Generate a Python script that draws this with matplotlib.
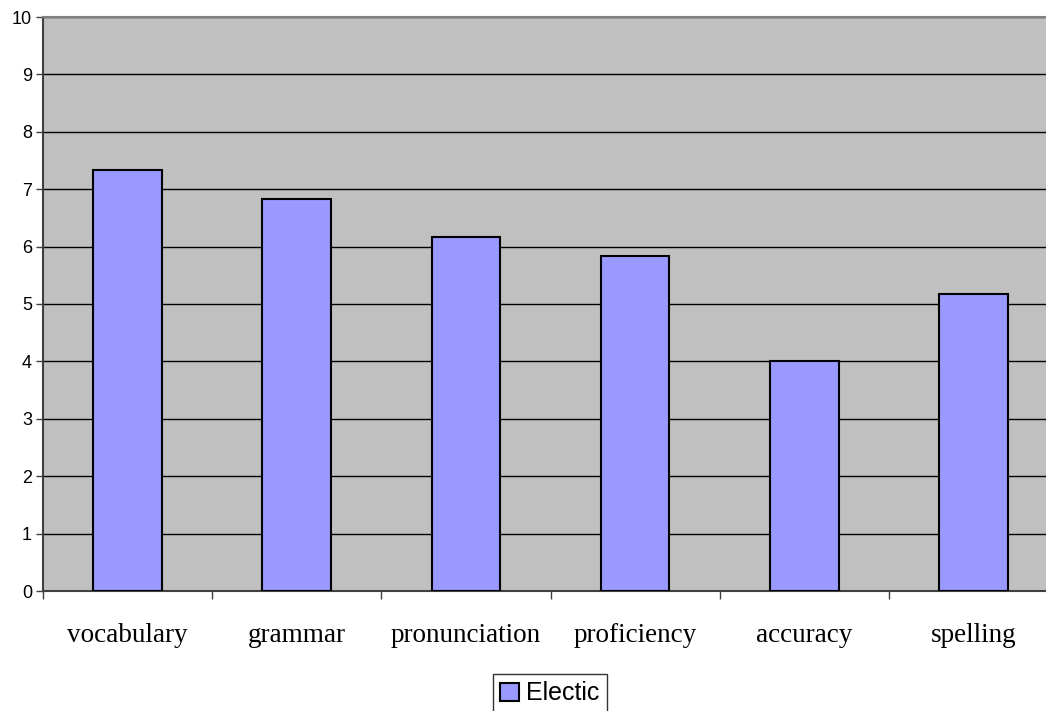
import matplotlib.pyplot as plt
import numpy as np

categories = ['vocabulary', 'grammar', 'pronunciation', 'proficiency', 'accuracy', 'spelling']
electic = [7.33, 6.83, 6.17, 5.83, 4.0, 5.17]

fig = plt.figure(figsize=(10.46, 7.11), dpi=100)
# plot area runs a little past the right edge of the image, like the original
ax = fig.add_axes([43 / 1046, 120 / 711, 1015 / 1046, 574 / 711])
ax.set_facecolor('#C0C0C0')

x = np.arange(len(categories))
ax.bar(x, electic, width=0.405, color='#9999FF', edgecolor='black', linewidth=1.5,
       label='Electic', zorder=3)

ax.set_xlim(-0.5, len(categories) - 0.5)
ax.set_ylim(0, 10)
ax.set_yticks(range(0, 11))
ax.yaxis.grid(True, color='black', linewidth=1, zorder=1)

ax.set_xticks(x)
ax.set_xticklabels(categories, fontfamily='Liberation Serif', fontsize=19.5)
ax.tick_params(axis='x', which='major', length=0, pad=23)
ax.set_xticks(np.arange(-0.5, len(categories)), minor=True)
ax.tick_params(axis='x', which='minor', length=6, width=1, color='#404040')
ax.tick_params(axis='y', length=5, width=1, color='#404040', labelsize=13, pad=3)
for t in ax.get_yticklabels():
    t.set_fontfamily('Liberation Sans')

for s in ['left', 'bottom']:
    ax.spines[s].set_color('#404040')
    ax.spines[s].set_linewidth(1.5)
ax.spines['top'].set_color('#808080')
ax.spines['top'].set_linewidth(1.5)
ax.spines['right'].set_visible(False)

leg = fig.legend(loc='upper center', bbox_to_anchor=(550 / 1046, 1 - 674 / 711),
                 prop={'family': 'Liberation Sans', 'size': 18},
                 frameon=True, fancybox=False, edgecolor='black',
                 handlelength=0.75, handleheight=0.75, handletextpad=0.3,
                 borderpad=0.3, borderaxespad=0)
leg.get_frame().set_linewidth(1)

fig.savefig('out.png', dpi=100)
